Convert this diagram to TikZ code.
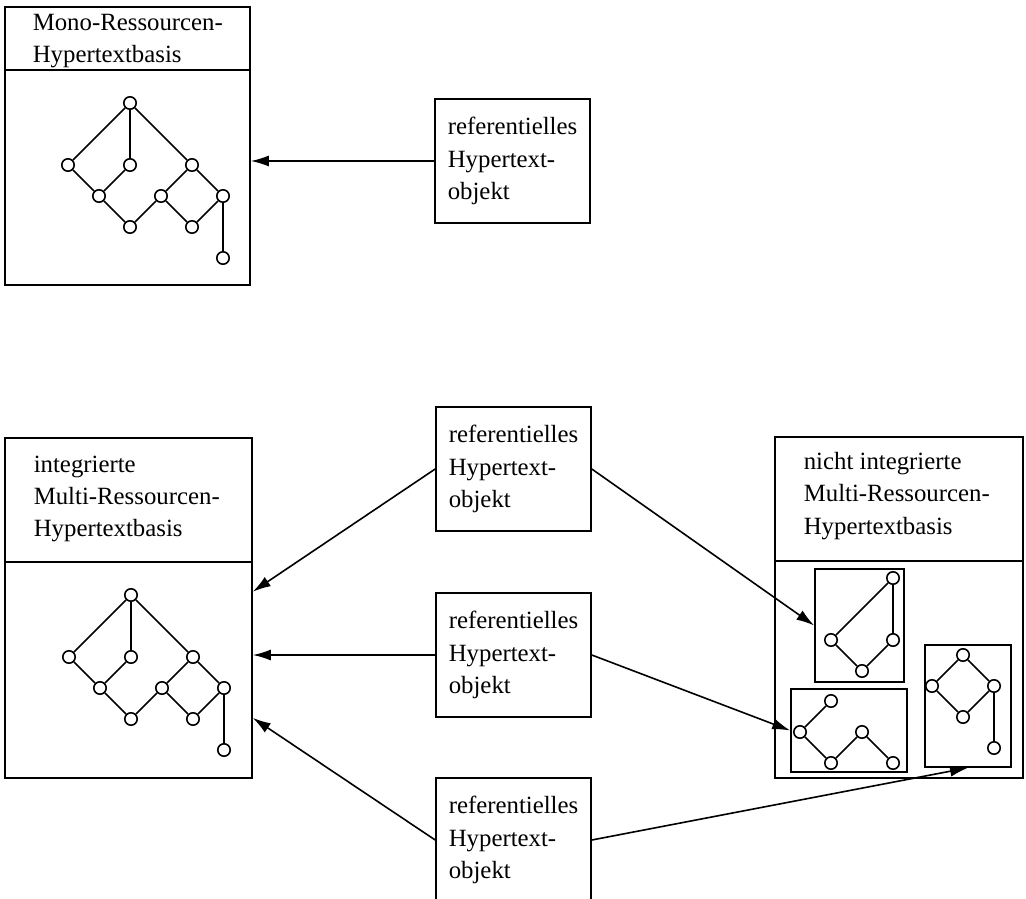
\documentclass[tikz,border=0pt]{standalone}
\usepackage{fontspec}
\setmainfont{Liberation Serif}
\usetikzlibrary{arrows.meta,fit,calc}

\begin{document}
\begin{tikzpicture}[
    x=0.5pt, y=-0.5pt,
    line width=0.8pt,
    every node/.style={font=\fontsize{12.4pt}{16.2pt}\selectfont},
    frame/.style={draw, inner sep=0pt},
    headtext/.style={anchor=west, align=left, inner sep=0pt},
    refbox/.style={draw, minimum width=77.5pt, minimum height=62pt, align=left},
    vertex/.style={draw, circle, inner sep=0pt, minimum size=6.2pt},
    arrow/.style={-{Latex[length=9pt,width=5.5pt]}}
]
\clip (0,0) rectangle (1026,898);

% Mono-Ressourcen base (top left)
\node[frame, fit={(5,7) (250,70)}] (monohead) {};
\node[frame, fit={(5,70) (250,285)}] (monobody) {};
\node[headtext] (monotext) at (32,41) {Mono-Ressourcen-\\Hypertextbasis};

% Integrated base (bottom left)
\node[frame, fit={(5,438) (252,562)}] (inthead) {};
\node[frame, fit={(5,562) (252,778)}] (intbody) {};
\node[headtext] (inttext) at (33,499) {integrierte\\Multi-Ressourcen-\\Hypertextbasis};

% Non-integrated base (bottom right)
\node[frame, fit={(775,437) (1023,561)}] (nihead) {};
\node[frame, fit={(775,561) (1023,778)}] (nibody) {};
\node[headtext] (nitext) at (803,496) {nicht integrierte\\Multi-Ressourcen-\\Hypertextbasis};
\node[frame, fit={(815,569) (904,682)}] (subA) {};
\node[frame, fit={(791,689) (907,772)}] (subB) {};
\node[frame, fit={(925,645) (1011,767)}] (subC) {};

% Referential hypertext objects
\node[refbox] (reftop) at (512.5,161) {referentielles\\Hypertext-\\objekt};
\node[refbox] (refa) at (513.5,469) {referentielles\\Hypertext-\\objekt};
\node[refbox] (refb) at (513.5,655) {referentielles\\Hypertext-\\objekt};
\node[refbox] (refc) at (513.5,840) {referentielles\\Hypertext-\\objekt};

% Lattice graphs (grid unit 31)
\foreach \pre/\x/\y in {m/130/103, i/131/595} {
    \foreach \n/\i/\j in {t/0/0, a/-2/2, b/0/2, c/2/2, d/-1/3, e/1/3, f/3/3, g/0/4, h/2/4, k/3/5}
        \node[vertex] (\pre\n) at ({\x+31*(\i)}, {\y+31*(\j)}) {};
    \foreach \p/\q in {t/a, t/b, t/c, a/d, b/d, d/g, g/e, e/c, e/h, c/f, h/f, f/k}
        \draw (\pre\p) -- (\pre\q);
}

% Partial graphs
\foreach \n/\i/\j in {t/0/0, l/-2/2, r/0/2, b/-1/3}
    \node[vertex] (a\n) at ({893+31*(\i)}, {578+31*(\j)}) {};
\foreach \p/\q in {t/l, t/r, l/b, r/b}
    \draw (a\p) -- (a\q);

\foreach \n/\i/\j in {l/0/0, t/1/-1, b/1/1, m/2/0, r/3/1}
    \node[vertex] (b\n) at ({800+31*(\i)}, {732+31*(\j)}) {};
\foreach \p/\q in {l/t, l/b, b/m, m/r}
    \draw (b\p) -- (b\q);

\foreach \n/\i/\j in {t/0/0, l/-1/1, r/1/1, b/0/2, k/1/3}
    \node[vertex] (c\n) at ({963+31*(\i)}, {655+31*(\j)}) {};
\foreach \p/\q in {t/l, t/r, l/b, b/r, r/k}
    \draw (c\p) -- (c\q);

% References
\draw[arrow] (reftop.west) -- (reftop.west -| monobody.east);
\draw[arrow] (refa.west) -- ($(intbody.north east)!0.14!(intbody.south east)$);
\draw[arrow] (refb.west) -- (refb.west -| intbody.east);
\draw[arrow] (refc.west) -- ($(intbody.north east)!0.72!(intbody.south east)$);
\draw[arrow] (refa.east) -- (subA.west);
\draw[arrow] (refb.east) -- (subB.west);
\draw[arrow] (refc.east) -- (subC.south);

\end{tikzpicture}
\end{document}
